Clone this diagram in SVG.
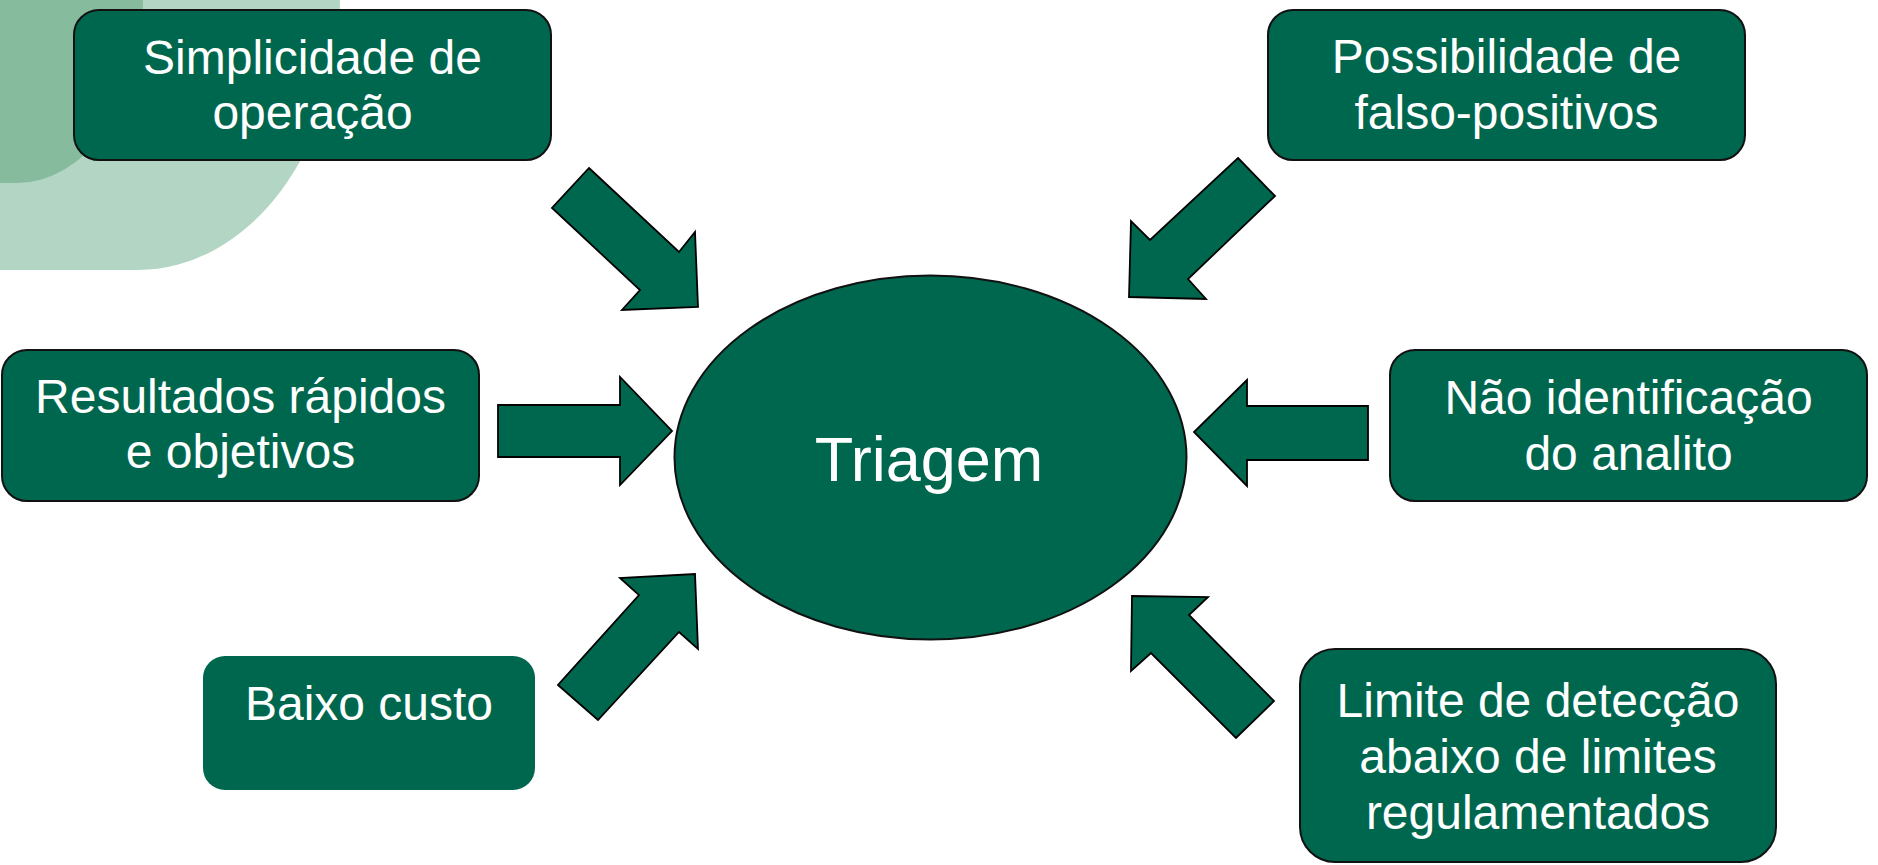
<svg xmlns="http://www.w3.org/2000/svg" width="1878" height="865" viewBox="0 0 1878 865">
<style>
  .box { fill: #00674F; stroke: #111; stroke-width: 2; }
  .nostroke { stroke: none; }
  .arrow { fill: #00674F; stroke: #000; stroke-width: 1.8; stroke-linejoin: miter; }
  .t { font-family: "Liberation Sans", Arial, sans-serif; font-size: 48px; fill: #ffffff; text-anchor: middle; }
  .big { font-size: 63px; }
</style>
<rect x="0" y="0" width="1878" height="865" fill="#ffffff"/>
<g id="background">
  <path d="M0,0 L340,0 A202,270 0 0 1 138,270 L0,270 Z" fill="#B2D5C4"/>
  <path d="M0,0 L143,0 A126,183 0 0 1 17,183 L0,183 Z" fill="#86BB9E"/>
</g>
<g id="connectors">
  <polygon class="arrow" points="589,168 679,252 695,232 698,307 622,310 640,290 552,208"/>
  <polygon class="arrow" points="1238,158 1275,196 1188,279 1206,299 1129,297 1131,221 1150,240"/>
  <polygon class="arrow" points="498,405 620,405 620,377 672,431 620,485 620,457 498,457"/>
  <polygon class="arrow" points="558,685 598,720 679,632 698,649 695,574 620,578 639,595"/>
  <polygon class="arrow" points="1368,406 1247,406 1247,380 1194,432 1247,486 1247,460 1368,460"/>
  <polygon class="arrow" points="1132,596 1208,597 1189,615 1274,701 1236,738 1151,653 1131,671"/>
</g>
<g id="node-triagem">
  <ellipse cx="930.5" cy="457.5" rx="256" ry="182" fill="#00674F" stroke="#111" stroke-width="2"/>
  <text class="t big" x="929" y="481">Triagem</text>
</g>
<g id="node-simplicidade">
  <rect class="box" x="74" y="10" width="477" height="150" rx="25" ry="25"/>
  <text class="t" x="312.5" y="74">Simplicidade de</text>
  <text class="t" x="312.5" y="129">operação</text>
</g>
<g id="node-falso-positivos">
  <rect class="box" x="1268" y="10" width="477" height="150" rx="25" ry="25"/>
  <text class="t" x="1506.5" y="73">Possibilidade de</text>
  <text class="t" x="1506.5" y="129">falso-positivos</text>
</g>
<g id="node-resultados">
  <rect class="box" x="2" y="350" width="477" height="151" rx="25" ry="25"/>
  <text class="t" x="240.5" y="413">Resultados rápidos</text>
  <text class="t" x="240.5" y="468">e objetivos</text>
</g>
<g id="node-analito">
  <rect class="box" x="1390" y="350" width="477" height="151" rx="25" ry="25"/>
  <text class="t" x="1628.5" y="414">Não identificação</text>
  <text class="t" x="1628.5" y="470">do analito</text>
</g>
<g id="node-baixo-custo">
  <rect class="box nostroke" x="203" y="656" width="332" height="134" rx="22" ry="22"/>
  <text class="t" x="369" y="720">Baixo custo</text>
</g>
<g id="node-limite">
  <rect class="box" x="1300" y="649" width="476" height="213" rx="35" ry="35"/>
  <text class="t" x="1538" y="717">Limite de detecção</text>
  <text class="t" x="1538" y="773">abaixo de limites</text>
  <text class="t" x="1538" y="829">regulamentados</text>
</g>
</svg>
